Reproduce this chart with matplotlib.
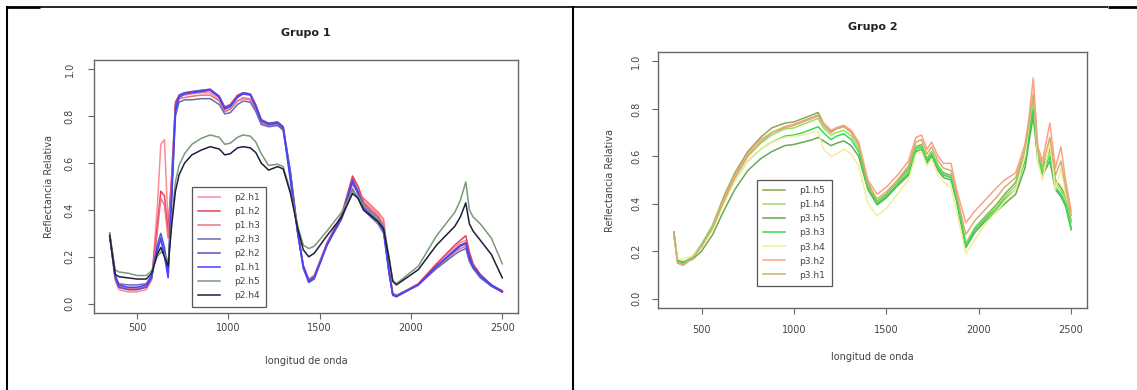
import matplotlib
matplotlib.use("Agg")
import matplotlib.pyplot as plt
from matplotlib.lines import Line2D

# ---- Grupo 1 ----
wl1 = [350, 380, 400, 450, 500, 550, 580, 610, 630, 650, 670, 690, 710, 730, 760,
       800, 850, 900, 950, 980, 1010, 1050, 1080, 1120, 1150, 1180, 1220, 1270, 1300,
       1340, 1380, 1410, 1440, 1470, 1540, 1620, 1680, 1710, 1740, 1820, 1850, 1880,
       1900, 1920, 2040, 2140, 2240, 2270, 2300, 2320, 2340, 2380, 2440, 2500]

p2h1 = [0.29, 0.10, 0.06, 0.05, 0.05, 0.06, 0.10, 0.40, 0.68, 0.70, 0.33, 0.55, 0.85, 0.885, 0.89,
        0.895, 0.90, 0.90, 0.87, 0.82, 0.83, 0.865, 0.88, 0.875, 0.835, 0.775, 0.76, 0.765, 0.745,
        0.55, 0.30, 0.16, 0.10, 0.12, 0.26, 0.37, 0.54, 0.50, 0.44, 0.38, 0.34, 0.14,
        0.045, 0.035, 0.085, 0.17, 0.24, 0.26, 0.27, 0.21, 0.165, 0.12, 0.08, 0.055]
p1h2 = [0.30, 0.11, 0.07, 0.06, 0.06, 0.07, 0.11, 0.33, 0.48, 0.46, 0.30, 0.55, 0.86, 0.89, 0.90,
        0.905, 0.91, 0.915, 0.885, 0.84, 0.85, 0.89, 0.90, 0.895, 0.85, 0.785, 0.77, 0.775, 0.755,
        0.56, 0.31, 0.16, 0.10, 0.115, 0.26, 0.38, 0.545, 0.50, 0.43, 0.37, 0.33, 0.14,
        0.04, 0.03, 0.085, 0.17, 0.25, 0.27, 0.29, 0.22, 0.17, 0.125, 0.08, 0.055]
p1h3 = [0.29, 0.11, 0.075, 0.065, 0.065, 0.075, 0.11, 0.30, 0.45, 0.42, 0.28, 0.52, 0.84, 0.875, 0.88,
        0.885, 0.89, 0.89, 0.865, 0.82, 0.83, 0.865, 0.875, 0.87, 0.83, 0.77, 0.76, 0.765, 0.745,
        0.55, 0.30, 0.165, 0.105, 0.12, 0.255, 0.37, 0.51, 0.47, 0.45, 0.39, 0.36, 0.15,
        0.045, 0.035, 0.08, 0.155, 0.22, 0.235, 0.245, 0.19, 0.155, 0.115, 0.075, 0.05]
p2h3 = [0.29, 0.12, 0.085, 0.08, 0.08, 0.085, 0.12, 0.24, 0.27, 0.22, 0.13, 0.48, 0.80, 0.86, 0.87,
        0.87, 0.875, 0.875, 0.85, 0.81, 0.815, 0.85, 0.865, 0.86, 0.82, 0.765, 0.755, 0.76, 0.74,
        0.54, 0.30, 0.16, 0.10, 0.115, 0.25, 0.36, 0.49, 0.45, 0.40, 0.34, 0.30, 0.13,
        0.04, 0.035, 0.08, 0.15, 0.21, 0.225, 0.235, 0.18, 0.15, 0.11, 0.075, 0.05]
p2h2 = [0.29, 0.11, 0.07, 0.06, 0.06, 0.07, 0.11, 0.25, 0.30, 0.24, 0.14, 0.50, 0.84, 0.89, 0.90,
        0.905, 0.91, 0.915, 0.885, 0.835, 0.845, 0.885, 0.90, 0.895, 0.845, 0.785, 0.77, 0.775, 0.755,
        0.56, 0.30, 0.15, 0.09, 0.105, 0.25, 0.37, 0.53, 0.48, 0.42, 0.36, 0.32, 0.13,
        0.035, 0.03, 0.08, 0.16, 0.225, 0.245, 0.255, 0.19, 0.155, 0.115, 0.075, 0.05]
p1h1 = [0.30, 0.12, 0.08, 0.07, 0.07, 0.08, 0.12, 0.22, 0.28, 0.20, 0.11, 0.45, 0.82, 0.88, 0.895,
        0.90, 0.905, 0.91, 0.88, 0.83, 0.84, 0.88, 0.895, 0.89, 0.84, 0.78, 0.765, 0.77, 0.75,
        0.52, 0.30, 0.16, 0.095, 0.11, 0.25, 0.37, 0.52, 0.47, 0.41, 0.35, 0.31, 0.13,
        0.04, 0.03, 0.08, 0.16, 0.23, 0.25, 0.26, 0.20, 0.16, 0.12, 0.08, 0.05]
p2h5 = [0.30, 0.145, 0.135, 0.13, 0.12, 0.12, 0.14, 0.20, 0.22, 0.21, 0.18, 0.36, 0.52, 0.59, 0.64,
        0.68, 0.705, 0.72, 0.71, 0.68, 0.685, 0.71, 0.72, 0.715, 0.69, 0.64, 0.59, 0.595, 0.585,
        0.48, 0.33, 0.25, 0.235, 0.245, 0.31, 0.39, 0.48, 0.46, 0.42, 0.36, 0.33, 0.20,
        0.10, 0.085, 0.16, 0.29, 0.39, 0.44, 0.52, 0.40, 0.37, 0.34, 0.28, 0.17]
p2h4 = [0.29, 0.125, 0.115, 0.11, 0.105, 0.105, 0.13, 0.21, 0.24, 0.20, 0.16, 0.34, 0.48, 0.55, 0.60,
        0.635, 0.655, 0.67, 0.66, 0.635, 0.64, 0.665, 0.67, 0.665, 0.645, 0.60, 0.57, 0.585, 0.575,
        0.47, 0.32, 0.23, 0.20, 0.215, 0.29, 0.37, 0.47, 0.45, 0.40, 0.35, 0.32, 0.19,
        0.095, 0.08, 0.145, 0.25, 0.33, 0.37, 0.43, 0.34, 0.31, 0.27, 0.21, 0.11]

labels1 = ["p2.h1", "p1.h2", "p1.h3", "p2.h3", "p2.h2", "p1.h1", "p2.h5", "p2.h4"]
series1 = [p2h1, p1h2, p1h3, p2h3, p2h2, p1h1, p2h5, p2h4]
colors1 = ["#ff8899", "#e8405a", "#f07080", "#6a6ab0", "#5555cc", "#4444ff", "#7a9a7a", "#1e1e3c"]

# ---- Grupo 2 ----
wl2 = [350, 370, 400, 450, 500, 560, 620, 680, 750, 820, 880, 950, 1000, 1050, 1100,
       1130, 1160, 1200, 1230, 1270, 1310, 1350, 1400, 1450, 1500, 1560, 1620, 1660, 1690,
       1720, 1745, 1780, 1810, 1850, 1880, 1930, 1980, 2040, 2100, 2140, 2200, 2250, 2270,
       2295, 2320, 2345, 2385, 2415, 2445, 2470, 2500]

p1h5 = [0.28, 0.15, 0.14, 0.17, 0.225, 0.31, 0.43, 0.53, 0.62, 0.68, 0.72, 0.74, 0.745, 0.76, 0.775,
        0.785, 0.74, 0.705, 0.72, 0.73, 0.70, 0.65, 0.49, 0.41, 0.44, 0.49, 0.55, 0.64, 0.65,
        0.59, 0.62, 0.56, 0.53, 0.52, 0.43, 0.23, 0.30, 0.35, 0.40, 0.44, 0.49, 0.61, 0.71,
        0.84, 0.62, 0.55, 0.63, 0.50, 0.47, 0.43, 0.33]
p1h4 = [0.28, 0.155, 0.145, 0.175, 0.23, 0.31, 0.42, 0.52, 0.60, 0.655, 0.69, 0.715, 0.72, 0.735, 0.75,
        0.76, 0.72, 0.69, 0.70, 0.71, 0.685, 0.635, 0.48, 0.405, 0.435, 0.485, 0.54, 0.635, 0.645,
        0.585, 0.615, 0.555, 0.525, 0.515, 0.425, 0.225, 0.295, 0.345, 0.39, 0.43, 0.475, 0.60, 0.70,
        0.82, 0.61, 0.54, 0.62, 0.49, 0.455, 0.415, 0.32]
p3h5 = [0.27, 0.16, 0.155, 0.165, 0.20, 0.27, 0.37, 0.46, 0.54, 0.59, 0.62, 0.645, 0.65, 0.66, 0.67,
        0.68, 0.665, 0.645, 0.655, 0.665, 0.645, 0.60, 0.46, 0.395, 0.425, 0.475, 0.52, 0.62, 0.63,
        0.57, 0.60, 0.54, 0.51, 0.50, 0.41, 0.215, 0.28, 0.33, 0.37, 0.40, 0.44, 0.55, 0.65,
        0.77, 0.58, 0.52, 0.58, 0.46, 0.43, 0.39, 0.29]
p3h3 = [0.28, 0.16, 0.15, 0.175, 0.225, 0.30, 0.41, 0.50, 0.58, 0.63, 0.66, 0.685, 0.69, 0.70, 0.715,
        0.725, 0.70, 0.67, 0.685, 0.695, 0.67, 0.62, 0.47, 0.40, 0.43, 0.48, 0.53, 0.63, 0.64,
        0.58, 0.61, 0.55, 0.52, 0.51, 0.42, 0.22, 0.29, 0.34, 0.38, 0.42, 0.46, 0.58, 0.68,
        0.80, 0.60, 0.53, 0.60, 0.47, 0.44, 0.40, 0.30]
p3h4 = [0.27, 0.17, 0.165, 0.18, 0.22, 0.29, 0.40, 0.50, 0.58, 0.63, 0.66, 0.68, 0.685, 0.69, 0.70,
        0.705, 0.63, 0.60, 0.61, 0.63, 0.61, 0.56, 0.40, 0.35, 0.38, 0.44, 0.50, 0.61, 0.62,
        0.56, 0.59, 0.52, 0.49, 0.47, 0.37, 0.19, 0.25, 0.32, 0.37, 0.41, 0.46, 0.60, 0.72,
        0.88, 0.58, 0.50, 0.66, 0.46, 0.55, 0.44, 0.36]
p3h2 = [0.27, 0.15, 0.14, 0.17, 0.22, 0.30, 0.42, 0.52, 0.61, 0.67, 0.70, 0.72, 0.73, 0.745, 0.76,
        0.77, 0.74, 0.71, 0.72, 0.73, 0.71, 0.66, 0.50, 0.44, 0.47, 0.52, 0.58, 0.68, 0.69,
        0.63, 0.66, 0.60, 0.57, 0.57, 0.46, 0.32, 0.37, 0.42, 0.47, 0.50, 0.53, 0.65, 0.75,
        0.93, 0.64, 0.58, 0.74, 0.55, 0.64, 0.50, 0.37]
p3h1 = [0.28, 0.15, 0.145, 0.17, 0.22, 0.30, 0.41, 0.51, 0.60, 0.66, 0.70, 0.725, 0.735, 0.75, 0.765,
        0.775, 0.73, 0.70, 0.715, 0.725, 0.70, 0.65, 0.48, 0.42, 0.45, 0.50, 0.56, 0.66, 0.67,
        0.61, 0.64, 0.58, 0.55, 0.54, 0.44, 0.27, 0.33, 0.38, 0.43, 0.47, 0.51, 0.63, 0.73,
        0.86, 0.62, 0.56, 0.68, 0.52, 0.58, 0.47, 0.35]

labels2 = ["p1.h5", "p1.h4", "p3.h5", "p3.h3", "p3.h4", "p3.h2", "p3.h1"]
series2 = [p1h5, p1h4, p3h5, p3h3, p3h4, p3h2, p3h1]
colors2 = ["#88aa55", "#99e066", "#66aa55", "#33dd55", "#f2ee99", "#ffa080", "#d0b070"]

xticks = [500, 1000, 1500, 2000, 2500]
yticks = [0.0, 0.2, 0.4, 0.6, 0.8, 1.0]
ytick_labels = ["0.0", "0.2", "0.4", "0.6", "0.8", "1.0"]

W, H = 1137, 390
fig = plt.figure(figsize=(W / 100, H / 100), dpi=100)
fig.patch.set_facecolor("white")


def fx(px):
    return px / W


def fy(py):
    return 1 - py / H


def panel(box, wl, series, colors, labels, title, title_y, xlab_y, ylab_x, xpad, ypad):
    left, top, right, bottom = box
    ax = fig.add_axes([fx(left), fy(bottom), fx(right - left), (bottom - top) / H])
    for s, c, lab in zip(series, colors, labels):
        ax.plot(wl, s, color=c, lw=1.1, label=lab)
    ax.set_xlim(264, 2586)
    ax.set_ylim(-0.04, 1.04)
    ax.set_xticks(xticks)
    ax.set_yticks(yticks)
    ax.set_yticklabels(ytick_labels, rotation=90, va="center")
    ax.tick_params(axis="both", direction="out", length=4, width=0.8,
                   color="#666666", labelcolor="#444444", labelsize=7)
    ax.tick_params(axis="x", pad=xpad)
    ax.tick_params(axis="y", pad=ypad)
    for sp in ax.spines.values():
        sp.set_color("#666666")
        sp.set_linewidth(1.0)
    leg = ax.legend(loc="upper left", bbox_to_anchor=(800, 0.5), bbox_transform=ax.transData,
                    fontsize=6.5, handlelength=2.4, handletextpad=1.6, labelspacing=0.56,
                    borderpad=0.7, borderaxespad=0, fancybox=False, framealpha=1,
                    edgecolor="#555555", labelcolor="#444444")
    leg.get_frame().set_linewidth(0.9)
    cx = (left + right) / 2
    fig.text(fx(cx), fy(title_y), title, ha="center", va="center",
             fontsize=8, fontweight="bold", color="#222222")
    fig.text(fx(cx), fy(xlab_y), "longitud de onda", ha="center", va="center",
             fontsize=7, color="#444444")
    fig.text(fx(ylab_x), fy((top + bottom) / 2), "Reflectancia Relativa", ha="center",
             va="center", rotation=90, fontsize=7, color="#444444")
    return ax


panel((94, 60, 518, 313), wl1, series1, colors1, labels1, "Grupo 1", 33, 361, 49, 3, 10)
panel((658, 52, 1087, 308), wl2, series2, colors2, labels2, "Grupo 2", 27, 357, 610, 8, 8)

# table borders around the two pictures
def border(x0, y0, x1, y1, lw):
    fig.add_artist(Line2D([fx(x0), fx(x1)], [fy(y0), fy(y1)], transform=fig.transFigure,
                          color="black", lw=lw, solid_capstyle="butt"))

border(7, 6, 7, 390, 1.5)
border(572.5, 6, 572.5, 390, 1.5)
border(6, 6.5, 40, 6.5, 2.0)
border(40, 6.5, 1108, 6.5, 1.2)
border(1108, 6.5, 1137, 6.5, 2.0)

fig.savefig("out.png", dpi=100)
